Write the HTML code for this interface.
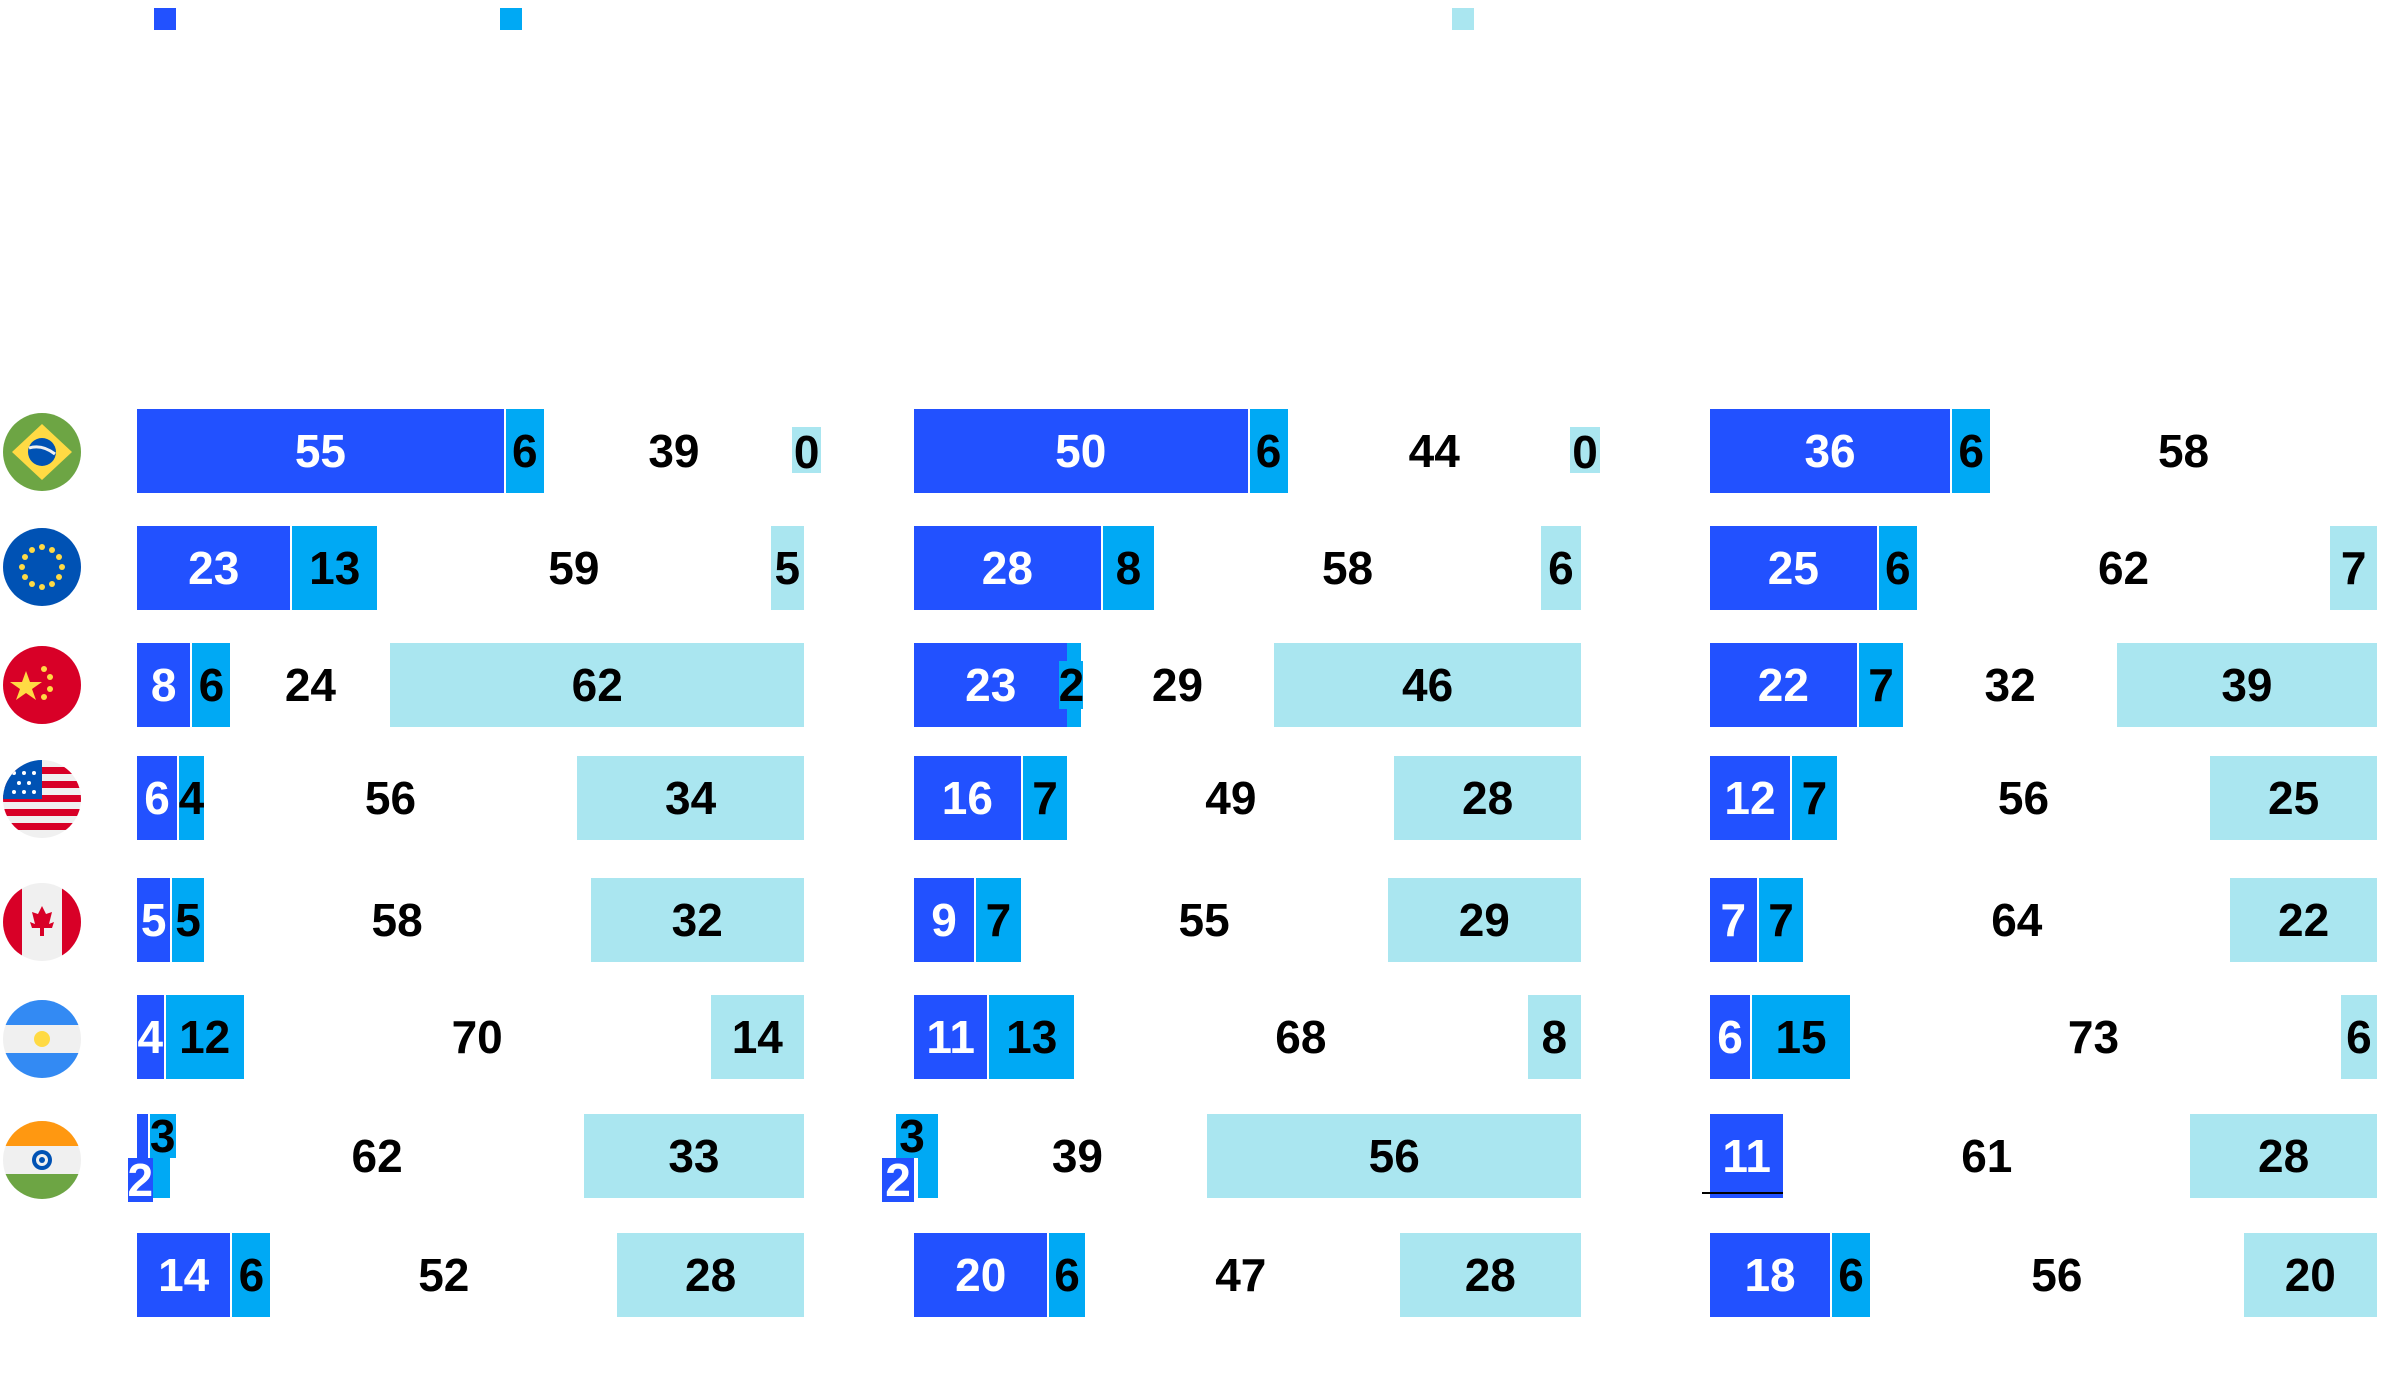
<!DOCTYPE html>
<html><head><meta charset="utf-8"><style>
body{margin:0;width:2400px;height:1374px;background:#fff;position:relative;overflow:hidden;font-family:"Liberation Sans",Arial,sans-serif;}
.lg{position:absolute;top:8px;width:22px;height:22px}
.p{position:absolute;top:0;width:667px;height:1374px}
.r{position:absolute;left:0;width:100%;height:84px}
.s{position:absolute;top:0;height:84px;line-height:84px;text-align:center;font-size:46px;font-weight:bold;color:#000;white-space:nowrap;box-sizing:border-box;display:flex;justify-content:center}
.d{background:#2251ff;color:#fff}
.m{background:#00a9f4;border-left:2px solid #fff}
.l{background:#aae6f0}
.n{background:none}
.z{background:#aae6f0;top:18px;height:46px;line-height:50px}
.f{position:absolute;left:2px}
</style></head><body>
<div class="lg" style="left:154px;background:#2251ff"></div>
<div class="lg" style="left:500px;background:#00a9f4"></div>
<div class="lg" style="left:1452px;background:#aae6f0"></div>

<!-- flags -->
<svg class="f" style="top:412px" width="80" height="80" viewBox="0 0 80 80"><circle cx="40" cy="40" r="39" fill="#6da544"/><polygon points="40,12 70,40 40,68 10,40" fill="#ffda44"/><circle cx="40" cy="40" r="14" fill="#0052b4"/><path d="M27,36 Q40,32 53,42" stroke="#f0f0f0" stroke-width="3" fill="none"/></svg>
<svg class="f" style="top:527px" width="80" height="80" viewBox="0 0 80 80"><circle cx="40" cy="40" r="39" fill="#0052b4"/><g fill="#ffda44"><circle cx="40" cy="20" r="3"/><circle cx="50" cy="23" r="3"/><circle cx="57" cy="30" r="3"/><circle cx="60" cy="40" r="3"/><circle cx="57" cy="50" r="3"/><circle cx="50" cy="57" r="3"/><circle cx="40" cy="60" r="3"/><circle cx="30" cy="57" r="3"/><circle cx="23" cy="50" r="3"/><circle cx="20" cy="40" r="3"/><circle cx="23" cy="30" r="3"/><circle cx="30" cy="23" r="3"/></g></svg>
<svg class="f" style="top:645px" width="80" height="80" viewBox="0 0 80 80"><circle cx="40" cy="40" r="39" fill="#d80027"/><polygon points="24,26 28,37 40,37 30,44 34,55 24,48 14,55 18,44 8,37 20,37" fill="#ffda44"/><g fill="#ffda44"><circle cx="42" cy="24" r="3"/><circle cx="48" cy="32" r="3"/><circle cx="48" cy="44" r="3"/><circle cx="42" cy="52" r="3"/></g></svg>
<svg class="f" style="top:759px" width="80" height="80" viewBox="0 0 80 80"><defs><clipPath id="c4"><circle cx="40" cy="40" r="39"/></clipPath></defs><g clip-path="url(#c4)"><rect width="80" height="80" fill="#f0f0f0"/><g fill="#d80027"><rect y="8" width="80" height="7"/><rect y="22" width="80" height="7"/><rect y="36" width="80" height="7"/><rect y="50" width="80" height="7"/><rect y="64" width="80" height="7"/></g><rect width="40" height="40" fill="#0052b4"/><g fill="#fff"><circle cx="12" cy="14" r="2"/><circle cx="22" cy="14" r="2"/><circle cx="32" cy="14" r="2"/><circle cx="17" cy="24" r="2"/><circle cx="27" cy="24" r="2"/><circle cx="12" cy="33" r="2"/><circle cx="22" cy="33" r="2"/><circle cx="32" cy="33" r="2"/></g></g></svg>
<svg class="f" style="top:882px" width="80" height="80" viewBox="0 0 80 80"><defs><clipPath id="c5"><circle cx="40" cy="40" r="39"/></clipPath></defs><g clip-path="url(#c5)"><rect width="80" height="80" fill="#f0f0f0"/><rect width="20" height="80" fill="#d80027"/><rect x="60" width="20" height="80" fill="#d80027"/><polygon points="40,24 44,32 50,30 47,42 52,40 50,46 42,46 42,54 38,54 38,46 30,46 28,40 33,42 30,30 36,32" fill="#d80027"/></g></svg>
<svg class="f" style="top:999px" width="80" height="80" viewBox="0 0 80 80"><defs><clipPath id="c6"><circle cx="40" cy="40" r="39"/></clipPath></defs><g clip-path="url(#c6)"><rect width="80" height="80" fill="#f0f0f0"/><rect width="80" height="26" fill="#338af3"/><rect y="54" width="80" height="26" fill="#338af3"/><circle cx="40" cy="40" r="8" fill="#ffda44"/></g></svg>
<svg class="f" style="top:1120px" width="80" height="80" viewBox="0 0 80 80"><defs><clipPath id="c7"><circle cx="40" cy="40" r="39"/></clipPath></defs><g clip-path="url(#c7)"><rect width="80" height="80" fill="#f0f0f0"/><rect width="80" height="26" fill="#ff9811"/><rect y="54" width="80" height="26" fill="#6da544"/><circle cx="40" cy="40" r="10" fill="#0052b4"/><circle cx="40" cy="40" r="6" fill="#f0f0f0"/><circle cx="40" cy="40" r="3" fill="#0052b4"/></g></svg>

<!-- Panel 1 -->
<div class="p" style="left:137px">
<div class="r" style="top:409px"><div class="s d" style="left:0;width:55%">55</div><div class="s m" style="left:55%;width:6%">6</div><div class="s n" style="left:61%;width:39%">39</div><div class="s z" style="left:98.2%;width:4.4%">0</div></div>
<div class="r" style="top:526px"><div class="s d" style="left:0;width:23%">23</div><div class="s m" style="left:23%;width:13%">13</div><div class="s n" style="left:36%;width:59%">59</div><div class="s l" style="left:95%;width:5%">5</div></div>
<div class="r" style="top:643px"><div class="s d" style="left:0;width:8%">8</div><div class="s m" style="left:8%;width:6%">6</div><div class="s n" style="left:14%;width:24%">24</div><div class="s l" style="left:38%;width:62%">62</div></div>
<div class="r" style="top:756px"><div class="s d" style="left:0;width:6%">6</div><div class="s m" style="left:6%;width:4%">4</div><div class="s n" style="left:10%;width:56%">56</div><div class="s l" style="left:66%;width:34%">34</div></div>
<div class="r" style="top:878px"><div class="s d" style="left:0;width:5%">5</div><div class="s m" style="left:5%;width:5%">5</div><div class="s n" style="left:10%;width:58%">58</div><div class="s l" style="left:68%;width:32%">32</div></div>
<div class="r" style="top:995px"><div class="s d" style="left:0;width:4%">4</div><div class="s m" style="left:4%;width:12%">12</div><div class="s n" style="left:16%;width:70%">70</div><div class="s l" style="left:86%;width:14%">14</div></div>
<div class="r" style="top:1114px"><div class="s d" style="left:0;width:2%;height:44px"></div><div class="s m" style="left:1.6%;width:4.2%;height:44px;line-height:44px">3</div><div class="s m" style="left:2.4%;width:2.6%;top:44px;height:40px;border:0"></div><div class="s d" style="left:-1.4%;width:3.8%;top:44px;height:44px;line-height:44px">2</div><div class="s n" style="left:5%;width:62%">62</div><div class="s l" style="left:67%;width:33%">33</div></div>
<div class="r" style="top:1233px"><div class="s d" style="left:0;width:14%">14</div><div class="s m" style="left:14%;width:6%">6</div><div class="s n" style="left:20%;width:52%">52</div><div class="s l" style="left:72%;width:28%">28</div></div>
</div>

<!-- Panel 2 -->
<div class="p" style="left:914px">
<div class="r" style="top:409px"><div class="s d" style="left:0;width:50%">50</div><div class="s m" style="left:50%;width:6%">6</div><div class="s n" style="left:56%;width:44%">44</div><div class="s z" style="left:98.4%;width:4.4%">0</div></div>
<div class="r" style="top:526px"><div class="s d" style="left:0;width:28%">28</div><div class="s m" style="left:28%;width:8%">8</div><div class="s n" style="left:36%;width:58%">58</div><div class="s l" style="left:94%;width:6%">6</div></div>
<div class="r" style="top:643px"><div class="s d" style="left:0;width:23%">23</div><div class="s m" style="left:23%;width:2%;border:0"></div><div class="s m" style="left:21.8%;width:3.6%;top:18px;height:48px;line-height:48px;border:0">2</div><div class="s n" style="left:25%;width:29%">29</div><div class="s l" style="left:54%;width:46%">46</div></div>
<div class="r" style="top:756px"><div class="s d" style="left:0;width:16%">16</div><div class="s m" style="left:16%;width:7%">7</div><div class="s n" style="left:23%;width:49%">49</div><div class="s l" style="left:72%;width:28%">28</div></div>
<div class="r" style="top:878px"><div class="s d" style="left:0;width:9%">9</div><div class="s m" style="left:9%;width:7%">7</div><div class="s n" style="left:16%;width:55%">55</div><div class="s l" style="left:71%;width:29%">29</div></div>
<div class="r" style="top:995px"><div class="s d" style="left:0;width:11%">11</div><div class="s m" style="left:11%;width:13%">13</div><div class="s n" style="left:24%;width:68%">68</div><div class="s l" style="left:92%;width:8%">8</div></div>
<div class="r" style="top:1114px"><div class="s m" style="left:0.6%;width:3%;height:84px;border:0"></div><div class="s m" style="left:-2.7%;width:4.8%;height:44px;line-height:44px;border:0">3</div><div class="s d" style="left:-4.8%;width:4.8%;top:44px;height:44px;line-height:44px">2</div><div class="s n" style="left:5%;width:39%">39</div><div class="s l" style="left:44%;width:56%">56</div></div>
<div class="r" style="top:1233px"><div class="s d" style="left:0;width:20%">20</div><div class="s m" style="left:20%;width:5.6%">6</div><div class="s n" style="left:26%;width:46%">47</div><div class="s l" style="left:72.8%;width:27.2%">28</div></div>
</div>

<!-- Panel 3 -->
<div class="p" style="left:1710px">
<div class="r" style="top:409px"><div class="s d" style="left:0;width:36%">36</div><div class="s m" style="left:36%;width:6%">6</div><div class="s n" style="left:42%;width:58%">58</div></div>
<div class="r" style="top:526px"><div class="s d" style="left:0;width:25%">25</div><div class="s m" style="left:25%;width:6%">6</div><div class="s n" style="left:31%;width:62%">62</div><div class="s l" style="left:93%;width:7%">7</div></div>
<div class="r" style="top:643px"><div class="s d" style="left:0;width:22%">22</div><div class="s m" style="left:22%;width:7%">7</div><div class="s n" style="left:29%;width:32%">32</div><div class="s l" style="left:61%;width:39%">39</div></div>
<div class="r" style="top:756px"><div class="s d" style="left:0;width:12%">12</div><div class="s m" style="left:12%;width:7%">7</div><div class="s n" style="left:19%;width:56%">56</div><div class="s l" style="left:75%;width:25%">25</div></div>
<div class="r" style="top:878px"><div class="s d" style="left:0;width:7%">7</div><div class="s m" style="left:7%;width:7%">7</div><div class="s n" style="left:14%;width:64%">64</div><div class="s l" style="left:78%;width:22%">22</div></div>
<div class="r" style="top:995px"><div class="s d" style="left:0;width:6%">6</div><div class="s m" style="left:6%;width:15%">15</div><div class="s n" style="left:21%;width:73%">73</div><div class="s l" style="left:94.6%;width:5.4%">6</div></div>
<div class="r" style="top:1114px"><div class="s d" style="left:0;width:11%">11</div><div style="position:absolute;left:-1.2%;width:12.2%;top:78px;height:2px;background:#000"></div><div class="s n" style="left:11%;width:61%">61</div><div class="s l" style="left:72%;width:28%">28</div></div>
<div class="r" style="top:1233px"><div class="s d" style="left:0;width:18%">18</div><div class="s m" style="left:18%;width:6%">6</div><div class="s n" style="left:24%;width:56%">56</div><div class="s l" style="left:80%;width:20%">20</div></div>
</div>
</body></html>
